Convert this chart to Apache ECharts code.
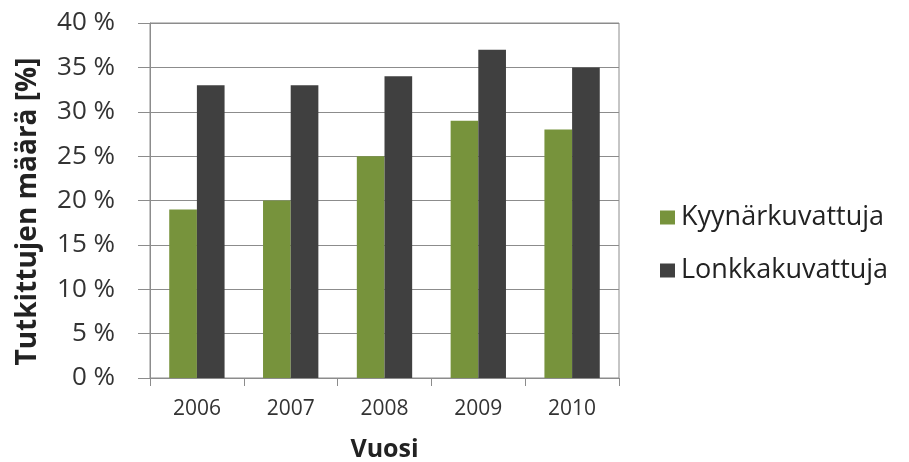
<!DOCTYPE html>
<html><head><meta charset="utf-8">
<script src="https://cdn.jsdelivr.net/npm/echarts@6/dist/echarts.min.js"></script>
<style>html,body{margin:0;padding:0;background:#fff}#c{width:909px;height:462px}</style>
</head><body><div id="c"></div>
<script>
const years = ['2006','2007','2008','2009','2010'];
const kyynar = [19, 20, 25, 29, 28];
const lonkka = [33, 33, 34, 37, 35];
const seriesNames = ['Kyynärkuvattuja','Lonkkakuvattuja'];
const FONT = 'Open Sans';
const chart = echarts.init(document.getElementById('c'), null, {renderer:'canvas'});
chart.setOption({
  animation:false,
  backgroundColor:'#fff',
  textStyle:{fontFamily:FONT},
  grid:{left:150,right:290,top:23,bottom:84,containLabel:false,outerBoundsMode:'none',show:true,borderColor:'#8c8c8c',borderWidth:1,backgroundColor:'transparent'},
  legend:{
    orient:'vertical', left:655, top:199, itemWidth:15, itemHeight:14, itemGap:26,
    icon:'rect',
    textStyle:{fontFamily:FONT,fontSize:27,color:'#222',padding:[0,0,0,1]},
    data:seriesNames
  },
  xAxis:{
    type:'category', data:years,
    name:'Vuosi', nameLocation:'middle', nameGap:59,
    nameTextStyle:{fontFamily:FONT,fontSize:25,fontWeight:'bold',color:'#222'},
    axisLine:{lineStyle:{color:'#8c8c8c',width:1}},
    axisTick:{show:true,length:8,lineStyle:{color:'#8c8c8c'}},
    axisLabel:{fontFamily:FONT,fontSize:21,color:'#333',margin:21}
  },
  yAxis:{
    type:'value', min:0, max:40, interval:5,
    name:'Tutkittujen määrä [%]', nameLocation:'middle', nameGap:108, nameRotate:90,
    nameTextStyle:{fontFamily:FONT,fontSize:28,fontWeight:'bold',color:'#222',padding:[0,0,0,-22]},
    axisLine:{show:true,lineStyle:{color:'#8c8c8c',width:1}},
    axisTick:{show:true,length:12,inside:false,lineStyle:{color:'#8c8c8c'}},
    axisLabel:{fontFamily:FONT,fontSize:26,color:'#333',margin:35,formatter:v=>v+' %'},
    splitLine:{show:true,lineStyle:{color:'#8c8c8c',width:1}}
  },
  series:[
    {name:seriesNames[0],type:'bar',data:kyynar,itemStyle:{color:'#77933c'},barGap:'0%',barCategoryGap:'41%'},
    {name:seriesNames[1],type:'bar',data:lonkka,itemStyle:{color:'#404040'},barGap:'0%',barCategoryGap:'41%'}
  ]
});
</script></body></html>
